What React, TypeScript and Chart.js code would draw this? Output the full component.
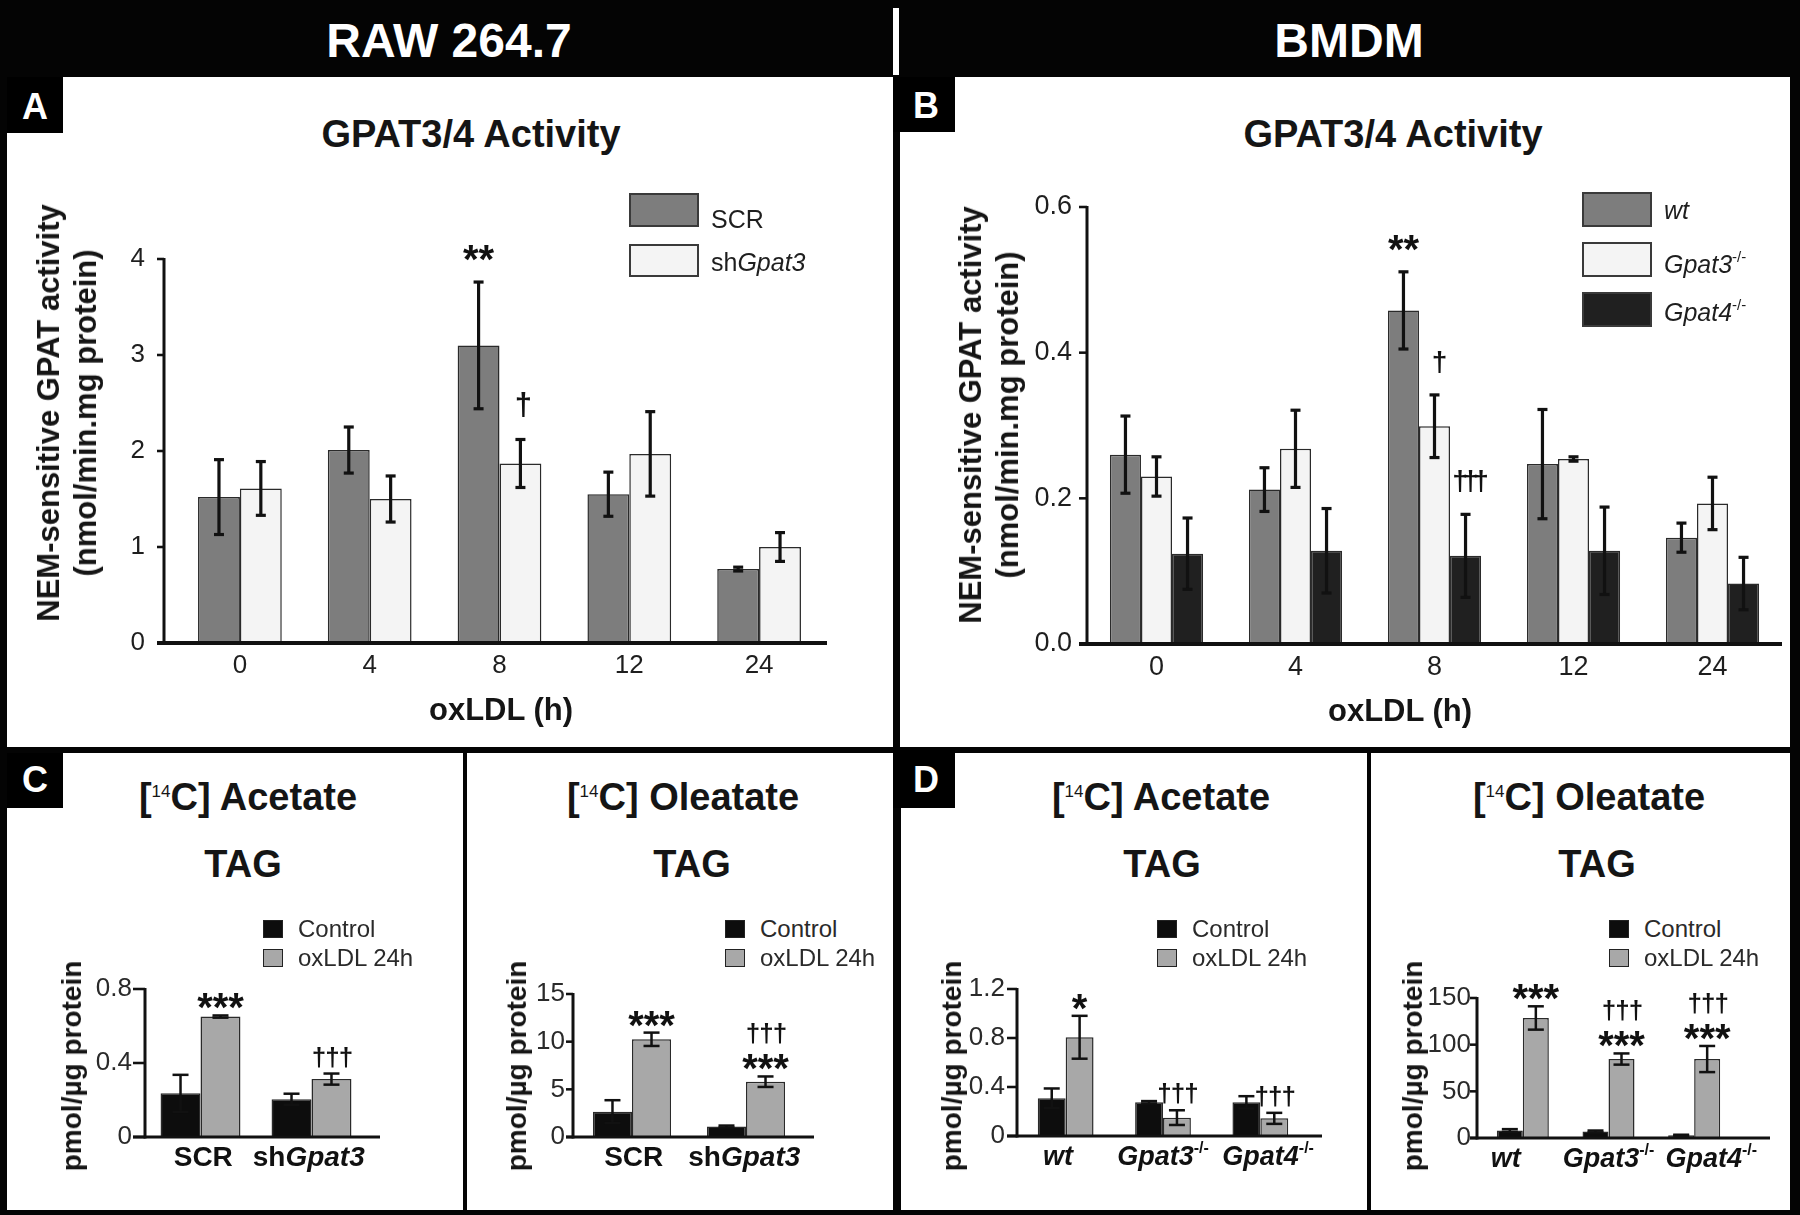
import React, { useEffect, useRef } from 'react';
import { Chart, registerables } from 'chart.js';

Chart.register(...registerables);

const FONT = '"Liberation Sans", Arial, Helvetica, sans-serif';
Chart.defaults.font.family = FONT;

// ---------------- DATA ----------------
const hours = ['0', '4', '8', '12', '24'];

// Panel A — RAW 264.7, NEM-sensitive GPAT activity (nmol/min.mg protein)
const aTicks = [0, 1, 2, 3, 4];
const aScr = [1.52, 2.01, 3.1, 1.55, 0.77];
const aScrErr = [0.39, 0.24, 0.66, 0.23, 0.02];
const aScrSig = ['', '', '**', '', ''];
const aSh = [1.61, 1.5, 1.87, 1.97, 1.0];
const aShErr = [0.28, 0.24, 0.25, 0.44, 0.15];
const aShSig = ['', '', '†', '', ''];

// Panel B — BMDM, NEM-sensitive GPAT activity
const bTicks = [0, 0.2, 0.4, 0.6];
const bWt = [0.26, 0.212, 0.458, 0.247, 0.146];
const bWtErr = [0.053, 0.03, 0.053, 0.075, 0.02];
const bWtSig = ['', '', '**', '', ''];
const bG3 = [0.23, 0.268, 0.299, 0.254, 0.193];
const bG3Err = [0.027, 0.053, 0.043, 0.003, 0.036];
const bG3Sig = ['', '', '†', '', ''];
const bG4 = [0.124, 0.128, 0.121, 0.128, 0.083];
const bG4Err = [0.049, 0.058, 0.057, 0.06, 0.036];
const bG4Sig = ['', '', '†††', '', ''];

// group / series names
const rawGroups = ['SCR', 'sh<i>Gpat3</i>'];
const bmdmGroups = ['<i>wt</i>', '<i>Gpat3</i><sup>-/-</sup>', '<i>Gpat4</i><sup>-/-</sup>'];
const treatments = ['Control', 'oxLDL 24h'];

// Panel C — RAW 264.7, TAG from [14C] acetate (pmol/µg protein)
const cAceTicks = [0, 0.4, 0.8];
const cAceCtrl = [0.236, 0.204];
const cAceCtrlErr = [0.1, 0.03];
const cAceCtrlSig = ['', ''];
const cAceOx = [0.651, 0.313];
const cAceOxErr = [0.006, 0.03];
const cAceOxSig = ['***', '†††'];

// Panel C — RAW 264.7, TAG from [14C] oleate
const cOleTicks = [0, 5, 10, 15];
const cOleCtrl = [2.66, 1.1];
const cOleCtrlErr = [1.2, 0.1];
const cOleCtrlSig = ['', ''];
const cOleOx = [10.25, 5.8];
const cOleOxErr = [0.7, 0.55];
const cOleOxSig = ['***', '†††\n***'];

// Panel D — BMDM, TAG from [14C] acetate
const dAceTicks = [0, 0.4, 0.8, 1.2];
const dAceCtrl = [0.308, 0.275, 0.275];
const dAceCtrlErr = [0.08, 0.01, 0.05];
const dAceCtrlSig = ['', '', ''];
const dAceOx = [0.806, 0.15, 0.144];
const dAceOxErr = [0.175, 0.06, 0.045];
const dAceOxSig = ['*', '†††', '†††'];

// Panel D — BMDM, TAG from [14C] oleate
const dOleTicks = [0, 50, 100, 150];
const dOleCtrl = [8, 7, 3];
const dOleCtrlErr = [1.5, 1, 0.5];
const dOleCtrlSig = ['', '', ''];
const dOleOx = [128.6, 84.6, 84.6];
const dOleOxErr = [12.5, 6, 14];
const dOleOxSig = ['***', '†††\n***', '†††\n***'];

// ---------------- HELPERS ----------------
type Seg = { t: string; i: boolean; sup: boolean };
function parseRich(s: string): Seg[] {
  const out: Seg[] = [];
  let it = false;
  let sup = false;
  s.split(/(<\/?i>|<\/?sup>)/).forEach((tok) => {
    if (tok === '<i>') it = true;
    else if (tok === '</i>') it = false;
    else if (tok === '<sup>') sup = true;
    else if (tok === '</sup>') sup = false;
    else if (tok) out.push({ t: tok, i: it, sup });
  });
  return out;
}

function Rich({ s }: { s: string }) {
  return (
    <>
      {parseRich(s).map((g, k) => (
        <span
          key={k}
          style={{
            fontStyle: g.i ? 'italic' : 'normal',
            ...(g.sup ? { fontSize: '0.6em', position: 'relative', top: '-0.75em' } : {}),
          }}
        >
          {g.t}
        </span>
      ))}
    </>
  );
}

function drawRich(ctx: CanvasRenderingContext2D, s: string, cx: number, base: number, size: number, color: string) {
  const segs = parseRich(s);
  const fontOf = (g: Seg) => `${g.i ? 'italic ' : ''}bold ${g.sup ? Math.round(size * 0.58) : size}px ${FONT}`;
  let total = 0;
  const widths = segs.map((g) => {
    ctx.font = fontOf(g);
    const w = ctx.measureText(g.t).width;
    total += w;
    return w;
  });
  let x = cx - total / 2;
  ctx.fillStyle = color;
  ctx.textAlign = 'left';
  ctx.textBaseline = 'alphabetic';
  segs.forEach((g, k) => {
    ctx.font = fontOf(g);
    ctx.fillText(g.t, x, g.sup ? base - size * 0.45 : base);
    x += widths[k];
  });
}

type DS = { label: string; data: number[]; err: number[]; sig: string[]; fill: string };
type Style = {
  caL: number; caR: number; caT: number; caB: number; yW: number; padT: number; padR: number; xH: number;
  cat: number; tickSize: number; tickColor: string; yPad: number; xPad: number;
  gap: number; tickLen: number; xExt: number; yAxisW: number; xAxisW: number;
  errW: number; capHalf: number; sigGap: number; sigLineGap: number; starPx: number; dagPx: number; dagSp: number;
  xlSize: number; xlBase: number; xlSpread: number; bw: number;
};
type Spec = { labels: string[]; rich: boolean; ds: DS[]; ticks: number[]; fixed?: number; st: Style };

function makeOverlay(spec: Spec) {
  return {
    id: 'overlay',
    afterDatasetsDraw(chart: any) {
      const ctx = chart.ctx as CanvasRenderingContext2D;
      const ca = chart.chartArea;
      const ys = chart.scales.y;
      const xs = chart.scales.x;
      const st = spec.st;
      const line = (x1: number, y1: number, x2: number, y2: number, w: number, c = '#111') => {
        ctx.strokeStyle = c;
        ctx.lineWidth = w;
        ctx.beginPath();
        ctx.moveTo(x1, y1);
        ctx.lineTo(x2, y2);
        ctx.stroke();
      };
      ctx.save();
      ctx.lineCap = 'butt';
      // axes
      const ax = ca.left - st.gap;
      const yTop = ys.getPixelForValue(ys.max);
      line(ax, yTop - 1, ax, ca.bottom + st.xAxisW / 2, st.yAxisW);
      ys.ticks.forEach((t: any) => {
        const py = ys.getPixelForValue(t.value);
        line(ax - st.tickLen, py, ax, py, st.yAxisW * 0.85);
      });
      line(ax - st.tickLen, ca.bottom, ca.right + st.xExt, ca.bottom, st.xAxisW);
      // error bars
      spec.ds.forEach((d, di) => {
        const meta = chart.getDatasetMeta(di);
        meta.data.forEach((el: any, i: number) => {
          const v = d.data[i];
          const e = d.err[i];
          const yt = ys.getPixelForValue(v + e);
          const yb = ys.getPixelForValue(v - e);
          line(el.x, yt, el.x, yb, st.errW);
          line(el.x - st.capHalf, yt, el.x + st.capHalf, yt, st.errW);
          line(el.x - st.capHalf, yb, el.x + st.capHalf, yb, st.errW);
        });
      });
      // significance marks
      ctx.fillStyle = '#111';
      ctx.textAlign = 'center';
      ctx.textBaseline = 'alphabetic';
      spec.ds.forEach((d, di) => {
        const meta = chart.getDatasetMeta(di);
        meta.data.forEach((el: any, i: number) => {
          const s = d.sig[i];
          if (!s) return;
          let bottom = ys.getPixelForValue(d.data[i] + d.err[i]) - st.sigGap;
          s.split('\n').reverse().forEach((ln) => {
            const star = ln.includes('*');
            ctx.font = star ? `bold ${st.starPx}px ${FONT}` : `bold ${st.dagPx}px ${FONT}`;
            (ctx as any).letterSpacing = star ? '0px' : `${st.dagSp}px`;
            const m = ctx.measureText(ln);
            const base = bottom - m.actualBoundingBoxDescent;
            const shift = star ? 0 : st.dagSp / 2;
            ctx.fillText(ln, el.x - shift, base);
            bottom = base - m.actualBoundingBoxAscent - st.sigLineGap;
          });
          (ctx as any).letterSpacing = '0px';
        });
      });
      // rich category labels
      if (spec.rich) {
        const n = spec.labels.length;
        const mid = (xs.getPixelForValue(0) + xs.getPixelForValue(n - 1)) / 2;
        spec.labels.forEach((s, i) => {
          const px = xs.getPixelForValue(i);
          drawRich(ctx, s, mid + (px - mid) * st.xlSpread, ca.bottom + st.xlBase, st.xlSize, '#111');
        });
      }
      ctx.restore();
    },
  };
}

function ChartBox({ spec }: { spec: Spec }) {
  const ref = useRef<HTMLCanvasElement>(null);
  const st = spec.st;
  const left = st.caL - st.yW;
  const top = st.caT - st.padT;
  const width = st.yW + (st.caR - st.caL) + st.padR;
  const height = st.padT + (st.caB - st.caT) + st.xH;
  useEffect(() => {
    const ticks = spec.ticks;
    const chart = new Chart(ref.current as HTMLCanvasElement, {
      type: 'bar',
      data: {
        labels: spec.labels,
        datasets: spec.ds.map((d) => ({
          label: d.label,
          data: d.data,
          backgroundColor: d.fill,
          borderColor: '#2a2a2a',
          borderWidth: st.bw,
          categoryPercentage: st.cat,
          barPercentage: 1,
        })),
      },
      options: {
        responsive: false,
        animation: false,
        events: [],
        layout: { padding: { left: 0, top: st.padT, right: st.padR, bottom: 0 } },
        plugins: { legend: { display: false }, tooltip: { enabled: false }, title: { display: false } },
        scales: {
          x: {
            type: 'category',
            offset: true,
            grid: { display: false, drawTicks: false },
            border: { display: false },
            ticks: {
              display: !spec.rich,
              font: { size: st.tickSize },
              color: st.tickColor,
              padding: st.xPad,
              maxRotation: 0,
              autoSkip: false,
            },
            afterFit: (s: any) => {
              s.height = st.xH;
            },
          },
          y: {
            type: 'linear',
            min: ticks[0],
            max: ticks[ticks.length - 1],
            grid: { display: false, drawTicks: false },
            border: { display: false },
            ticks: {
              font: { size: st.tickSize },
              color: st.tickColor,
              padding: st.yPad,
              callback: (v: any) => (spec.fixed !== undefined ? Number(v).toFixed(spec.fixed) : String(Number(Number(v).toFixed(3)))),
            },
            afterBuildTicks: (s: any) => {
              s.ticks = ticks.map((v) => ({ value: v }));
            },
            afterFit: (s: any) => {
              s.width = st.yW;
            },
          },
        },
      } as any,
      plugins: [makeOverlay(spec)],
    });
    return () => chart.destroy();
  }, []);
  return (
    <canvas
      ref={ref}
      width={width}
      height={height}
      style={{ position: 'absolute', left, top, width, height }}
    />
  );
}

// ---------------- STYLES / LAYOUT ----------------
const topStyle = {
  yW: 110, padT: 50, xH: 50, tickColor: '#1e1e1e', xPad: 7,
  yAxisW: 3, xAxisW: 4, errW: 3.2, capHalf: 5, sigGap: 21, sigLineGap: 8, starPx: 40, dagPx: 31, dagSp: -3,
  xlSize: 26, xlBase: 30, xlSpread: 1, bw: 1.5,
};
const botStyle = {
  yW: 110, padT: 50, xH: 50, tickSize: 26, tickColor: '#2a2a2a', xPad: 7,
  yAxisW: 3, xAxisW: 3, errW: 2.5, capHalf: 8, sigGap: 6, sigLineGap: 10, starPx: 40, dagPx: 26, dagSp: -1,
  xlSize: 28, xlBase: 29, xlSpread: 1, bw: 1.5,
};

const GRAY = '#7d7d7d';
const LIGHT = '#f4f4f4';
const DARK = '#202020';
const BLACK = '#0d0d0d';
const MID = '#a8a8a8';

const specA: Spec = {
  labels: hours, rich: false, ticks: aTicks,
  ds: [
    { label: 'SCR', data: aScr, err: aScrErr, sig: aScrSig, fill: GRAY },
    { label: 'shGpat3', data: aSh, err: aShErr, sig: aShSig, fill: LIGHT },
  ],
  st: { ...topStyle, caL: 175, caR: 824, caT: 259, caB: 643, padR: 20, cat: 0.645, tickSize: 26, yPad: 30, gap: 11, tickLen: 7, xExt: 3 } as Style,
};
const specB: Spec = {
  labels: hours, rich: false, ticks: bTicks, fixed: 1,
  ds: [
    { label: 'wt', data: bWt, err: bWtErr, sig: bWtSig, fill: GRAY },
    { label: 'Gpat3-/-', data: bG3, err: bG3Err, sig: bG3Sig, fill: LIGHT },
    { label: 'Gpat4-/-', data: bG4, err: bG4Err, sig: bG4Sig, fill: DARK },
  ],
  st: { ...topStyle, caL: 1087, caR: 1782, caT: 207, caB: 644, padR: 8, cat: 0.67, tickSize: 27, yPad: 15, gap: 0, tickLen: 8, xExt: 0, dagPx: 28, dagSp: -5 } as Style,
};
const specC1: Spec = {
  labels: rawGroups, rich: true, ticks: cAceTicks,
  ds: [
    { label: treatments[0], data: cAceCtrl, err: cAceCtrlErr, sig: cAceCtrlSig, fill: BLACK },
    { label: treatments[1], data: cAceOx, err: cAceOxErr, sig: cAceOxSig, fill: MID },
  ],
  st: { ...botStyle, caL: 145, caR: 367, caT: 989, caB: 1137, padR: 20, cat: 0.72, yPad: 13, gap: 0, tickLen: 12, xExt: 13, xlSpread: 0.95 } as Style,
};
const specC2: Spec = {
  labels: rawGroups, rich: true, ticks: cOleTicks,
  ds: [
    { label: treatments[0], data: cOleCtrl, err: cOleCtrlErr, sig: cOleCtrlSig, fill: BLACK },
    { label: treatments[1], data: cOleOx, err: cOleOxErr, sig: cOleOxSig, fill: MID },
  ],
  st: { ...botStyle, caL: 575, caR: 803, caT: 994, caB: 1137, padR: 20, cat: 0.685, yPad: 10, gap: 2, tickLen: 7, xExt: 11, xlSpread: 0.97 } as Style,
};
const specD1: Spec = {
  labels: bmdmGroups, rich: true, ticks: dAceTicks,
  ds: [
    { label: treatments[0], data: dAceCtrl, err: dAceCtrlErr, sig: dAceCtrlSig, fill: BLACK },
    { label: treatments[1], data: dAceOx, err: dAceOxErr, sig: dAceOxSig, fill: MID },
  ],
  st: { ...botStyle, caL: 1017, caR: 1309, caT: 989, caB: 1136, padR: 20, cat: 0.573, yPad: 12, gap: 0, tickLen: 10, xExt: 13, xlSpread: 1.08, xlSize: 27 } as Style,
};
const specD2: Spec = {
  labels: bmdmGroups, rich: true, ticks: dOleTicks,
  ds: [
    { label: treatments[0], data: dOleCtrl, err: dOleCtrlErr, sig: dOleCtrlSig, fill: BLACK },
    { label: treatments[1], data: dOleOx, err: dOleOxErr, sig: dOleOxSig, fill: MID },
  ],
  st: { ...botStyle, caL: 1480, caR: 1737, caT: 998, caB: 1138, padR: 45, cat: 0.607, yPad: 9, gap: 3, tickLen: 7, xExt: 33, xlSpread: 1.2, xlSize: 27 } as Style,
};

// ---------------- UI PIECES ----------------
type TxtProps = {
  x: number; y: number; size: number; bold?: boolean; color?: string; rotate?: number;
  lh?: number; left?: boolean; children: React.ReactNode;
};
function Txt({ x, y, size, bold, color = '#151515', rotate, lh, left, children }: TxtProps) {
  return (
    <div
      style={{
        position: 'absolute',
        left: x,
        top: y,
        transform: `${left ? 'translate(0,-50%)' : 'translate(-50%,-50%)'}${rotate ? ` rotate(${rotate}deg)` : ''}`,
        transformOrigin: left ? 'left center' : 'center center',
        fontSize: size,
        fontWeight: bold ? 'bold' : 'normal',
        color,
        lineHeight: lh ? `${lh}px` : 1,
        whiteSpace: 'nowrap',
        textAlign: 'center',
      }}
    >
      {children}
    </div>
  );
}

function Box({ l, t, w, h, bg, border }: { l: number; t: number; w: number; h: number; bg: string; border?: string }) {
  return (
    <div
      style={{ position: 'absolute', left: l, top: t, width: w, height: h, background: bg, border, boxSizing: 'border-box' }}
    />
  );
}

function BigLegend({ x, tops, heights, textX, textYs, names, fills }: {
  x: number; tops: number[]; heights: number[]; textX: number; textYs: number[]; names: string[]; fills: string[];
}) {
  return (
    <>
      {names.map((n, k) => (
        <React.Fragment key={k}>
          <Box l={x} t={tops[k]} w={70} h={heights[k]} bg={fills[k]} border="2px solid #3a3a3a" />
          <Txt x={textX} y={textYs[k]} size={25} left color="#1e1e1e">
            <Rich s={n} />
          </Txt>
        </React.Fragment>
      ))}
    </>
  );
}

function SmallLegend({ x }: { x: number }) {
  const fills = [BLACK, MID];
  return (
    <>
      {treatments.map((n, k) => (
        <React.Fragment key={k}>
          <Box l={x} t={920 + k * 29} w={20} h={18} bg={fills[k]} border="1.5px solid #222" />
          <Txt x={x + 35} y={929 + k * 29} size={24} left color="#2a2a2a">
            {n}
          </Txt>
        </React.Fragment>
      ))}
    </>
  );
}

function Iso({ name }: { name: string }) {
  return (
    <span>
      [<span style={{ fontSize: 17, fontWeight: 'normal', position: 'relative', top: -13 }}>14</span>C] {name}
    </span>
  );
}

function Letter({ l, t, w, h, cx, cy, ch }: { l: number; t: number; w: number; h: number; cx: number; cy: number; ch: string }) {
  return (
    <>
      <Box l={l} t={t} w={w} h={h} bg="#000" />
      <Txt x={cx} y={cy} size={36} bold color="#fff">
        {ch}
      </Txt>
    </>
  );
}

export default function App() {
  useEffect(() => {
    document.body.style.margin = '0';
  }, []);
  return (
    <div
      style={{
        position: 'fixed', left: 0, top: 0, width: 1800, height: 1215, background: '#040404',
        overflow: 'hidden', fontFamily: FONT,
      }}
    >
      {/* header band */}
      <Txt x={449} y={41} size={48} bold color="#fff">RAW 264.7</Txt>
      <Txt x={1349} y={41} size={48} bold color="#fff">BMDM</Txt>
      <Box l={893} t={8} w={6} h={67} bg="#fff" />

      {/* white panels */}
      <Box l={7} t={77} w={886} h={670} bg="#fff" />
      <Box l={900} t={77} w={890} h={670} bg="#fff" />
      <Box l={7} t={753} w={456} h={457} bg="#fff" />
      <Box l={467} t={753} w={426} h={457} bg="#fff" />
      <Box l={901} t={753} w={466} h={457} bg="#fff" />
      <Box l={1371} t={753} w={419} h={457} bg="#fff" />

      <Letter l={7} t={77} w={56} h={56} cx={35} cy={107} ch="A" />
      <Letter l={893} t={77} w={62} h={55} cx={926} cy={106} ch="B" />
      <Letter l={7} t={753} w={56} h={55} cx={35} cy={780} ch="C" />
      <Letter l={893} t={750} w={62} h={58} cx={926} cy={780} ch="D" />

      {/* charts */}
      <ChartBox spec={specA} />
      <ChartBox spec={specB} />
      <ChartBox spec={specC1} />
      <ChartBox spec={specC2} />
      <ChartBox spec={specD1} />
      <ChartBox spec={specD2} />

      {/* panel A texts */}
      <Txt x={471} y={134} size={38} bold>GPAT3/4 Activity</Txt>
      <Txt x={67} y={413} size={31} bold rotate={-90} lh={37}>
        NEM-sensitive GPAT activity<br />(nmol/min.mg protein)
      </Txt>
      <Txt x={501} y={709} size={31} bold>oxLDL (h)</Txt>
      <BigLegend x={629} tops={[193, 244]} heights={[34, 33]} textX={711} textYs={[219, 262]} names={rawGroups} fills={[GRAY, LIGHT]} />

      {/* panel B texts */}
      <Txt x={1393} y={134} size={38} bold>GPAT3/4 Activity</Txt>
      <Txt x={989} y={415} size={31} bold rotate={-90} lh={37}>
        NEM-sensitive GPAT activity<br />(nmol/min.mg protein)
      </Txt>
      <Txt x={1400} y={710} size={31} bold>oxLDL (h)</Txt>
      <BigLegend x={1582} tops={[192, 242, 292]} heights={[35, 35, 35]} textX={1664} textYs={[210, 264, 312]} names={bmdmGroups} fills={[GRAY, LIGHT, DARK]} />

      {/* panel C / D texts */}
      <Txt x={248} y={797} size={38} bold><Iso name="Acetate" /></Txt>
      <Txt x={243} y={864} size={38} bold>TAG</Txt>
      <Txt x={72} y={1066} size={28} bold rotate={-90}>pmol/µg protein</Txt>
      <SmallLegend x={263} />

      <Txt x={683} y={797} size={38} bold><Iso name="Oleatate" /></Txt>
      <Txt x={692} y={864} size={38} bold>TAG</Txt>
      <Txt x={517} y={1066} size={28} bold rotate={-90}>pmol/µg protein</Txt>
      <SmallLegend x={725} />

      <Txt x={1161} y={797} size={38} bold><Iso name="Acetate" /></Txt>
      <Txt x={1162} y={864} size={38} bold>TAG</Txt>
      <Txt x={952} y={1066} size={28} bold rotate={-90}>pmol/µg protein</Txt>
      <SmallLegend x={1157} />

      <Txt x={1589} y={797} size={38} bold><Iso name="Oleatate" /></Txt>
      <Txt x={1597} y={864} size={38} bold>TAG</Txt>
      <Txt x={1413} y={1066} size={28} bold rotate={-90}>pmol/µg protein</Txt>
      <SmallLegend x={1609} />
    </div>
  );
}
